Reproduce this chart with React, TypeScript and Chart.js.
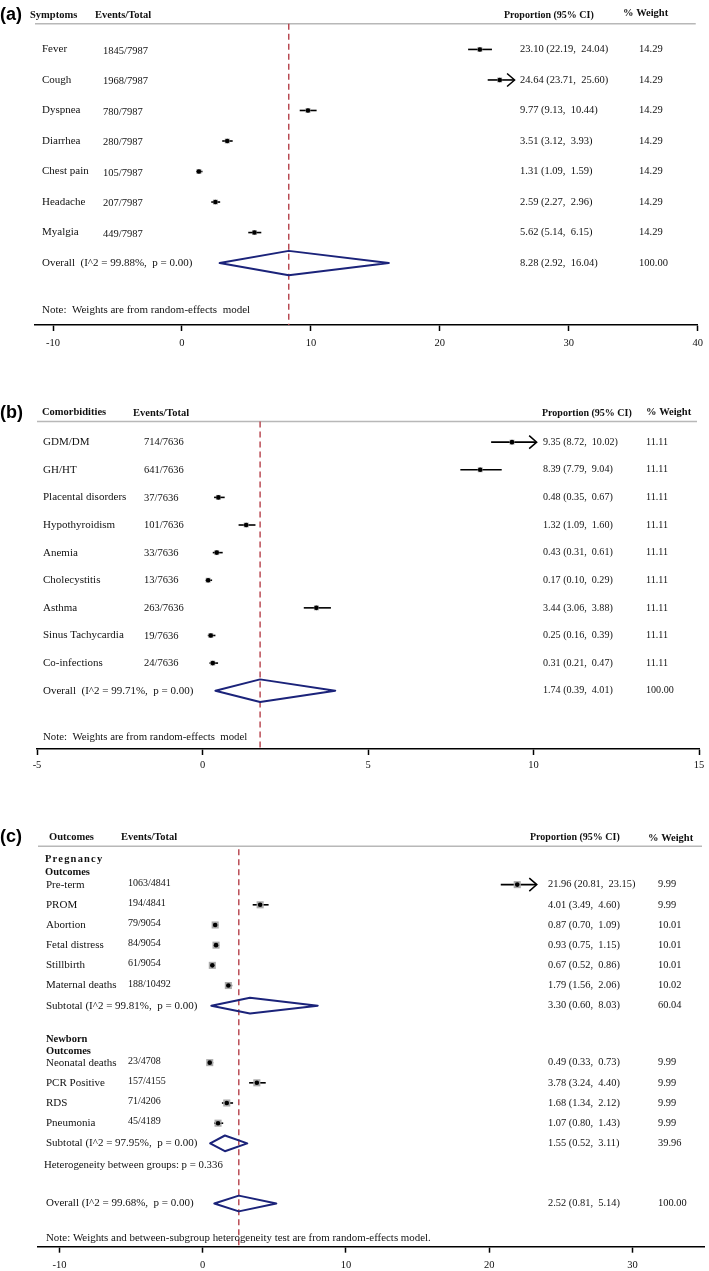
import React, { useEffect, useRef } from "react";
import { Chart, registerables } from "chart.js";

Chart.register(...registerables);

// ---------------- (a) Symptoms ----------------
const symptomNames = ["Fever", "Cough", "Dyspnea", "Diarrhea", "Chest pain", "Headache", "Myalgia"];
const symptomEvents = ["1845/7987", "1968/7987", "780/7987", "280/7987", "105/7987", "207/7987", "449/7987"];
const symptomEst = [23.1, 24.64, 9.77, 3.51, 1.31, 2.59, 5.62];
const symptomLow = [22.19, 23.71, 9.13, 3.12, 1.09, 2.27, 5.14];
const symptomHigh = [24.04, 25.6, 10.44, 3.93, 1.59, 2.96, 6.15];
const symptomWeight = [14.29, 14.29, 14.29, 14.29, 14.29, 14.29, 14.29];
const symptomArrow = [false, true, false, false, false, false, false];
const symptomOverall = [8.28, 2.92, 16.04, 100.0]; // estimate, low, high, weight
const symptomHet = [99.88, 0.0]; // I^2, p
const symptomTicks = [-10, 0, 10, 20, 30, 40];

// ---------------- (b) Comorbidities ----------------
const comorbNames = ["GDM/DM", "GH/HT", "Placental disorders", "Hypothyroidism", "Anemia", "Cholecystitis", "Asthma", "Sinus Tachycardia", "Co-infections"];
const comorbEvents = ["714/7636", "641/7636", "37/7636", "101/7636", "33/7636", "13/7636", "263/7636", "19/7636", "24/7636"];
const comorbEst = [9.35, 8.39, 0.48, 1.32, 0.43, 0.17, 3.44, 0.25, 0.31];
const comorbLow = [8.72, 7.79, 0.35, 1.09, 0.31, 0.1, 3.06, 0.16, 0.21];
const comorbHigh = [10.02, 9.04, 0.67, 1.6, 0.61, 0.29, 3.88, 0.39, 0.47];
const comorbWeight = [11.11, 11.11, 11.11, 11.11, 11.11, 11.11, 11.11, 11.11, 11.11];
const comorbArrow = [true, false, false, false, false, false, false, false, false];
const comorbOverall = [1.74, 0.39, 4.01, 100.0];
const comorbHet = [99.71, 0.0];
const comorbTicks = [-5, 0, 5, 10, 15];

// ---------------- (c) Outcomes ----------------
const pregNames = ["Pre-term", "PROM", "Abortion", "Fetal distress", "Stillbirth", "Maternal deaths"];
const pregEvents = ["1063/4841", "194/4841", "79/9054", "84/9054", "61/9054", "188/10492"];
const pregEst = [21.96, 4.01, 0.87, 0.93, 0.67, 1.79];
const pregLow = [20.81, 3.49, 0.7, 0.75, 0.52, 1.56];
const pregHigh = [23.15, 4.6, 1.09, 1.15, 0.86, 2.06];
const pregWeight = [9.99, 9.99, 10.01, 10.01, 10.01, 10.02];
const pregArrow = [true, false, false, false, false, false];
const pregSubtotal = [3.3, 0.6, 8.03, 60.04];
const pregHet = [99.81, 0.0];

const newbornNames = ["Neonatal deaths", "PCR Positive", "RDS", "Pneumonia"];
const newbornEvents = ["23/4708", "157/4155", "71/4206", "45/4189"];
const newbornEst = [0.49, 3.78, 1.68, 1.07];
const newbornLow = [0.33, 3.24, 1.34, 0.8];
const newbornHigh = [0.73, 4.4, 2.12, 1.43];
const newbornWeight = [9.99, 9.99, 9.99, 9.99];
const newbornArrow = [false, false, false, false];
const newbornSubtotal = [1.55, 0.52, 3.11, 39.96];
const newbornHet = [97.95, 0.0];

const outcomeOverall = [2.52, 0.81, 5.14, 100.0];
const outcomeHet = [99.68, 0.0];
const betweenGroupP = 0.336;
const outcomeTicks = [-10, 0, 10, 20, 30];

// ---------------- styling ----------------
const SERIF = '"Liberation Serif", "Times New Roman", serif';
const SANS = '"Liberation Sans", Arial, sans-serif';
const NAVY = "#1b237a";
const DASH = "#b5404a";
const BOX = "#ababab";
const TICK_LEN = 6;
const TICK_FONT = 10.5;

type Row = { est: number; lo: number; hi: number; arrow: boolean; row: number };
type Pooled = { est: number; lo: number; hi: number; row: number };
type TextItem = { text: string; x: number; row: number; size: number; bold?: boolean; sans?: boolean; spacing?: number; dy?: number };

interface PanelSpec {
  top: number;
  height: number;
  axisY: number; // axis line position inside the canvas
  left: number;
  right: number;
  tickPad: number;
  xMin: number;
  xMax: number;
  yMin: number;
  yMax: number;
  ticks: number[];
  rows: Row[];
  pooled: Pooled[];
  overall: number;
  dashFrom: number;
  ruleRow: number;
  boxRadius: number;
  diamondHalf: number;
  texts: TextItem[];
}

const f2 = (n: number) => n.toFixed(2);
const ciText = (e: number, l: number, h: number) => `${f2(e)} (${f2(l)},  ${f2(h)})`;

interface Cols { name: number; events: number; value: number; weight: number; nameSize: number; eventSize: number; valueSize: number; eventDy: number }

function addGroup(
  rows: Row[], texts: TextItem[], cols: Cols,
  names: string[], events: string[], est: number[], lo: number[], hi: number[], w: number[], arrows: boolean[],
  rowOf: (i: number) => number
) {
  names.forEach((n, i) => {
    const r = rowOf(i);
    rows.push({ est: est[i], lo: lo[i], hi: hi[i], arrow: arrows[i], row: r });
    texts.push({ text: n, x: cols.name, row: r, size: cols.nameSize });
    texts.push({ text: events[i], x: cols.events, row: r, size: cols.eventSize, dy: cols.eventDy });
    texts.push({ text: ciText(est[i], lo[i], hi[i]), x: cols.value, row: r, size: cols.valueSize });
    texts.push({ text: f2(w[i]), x: cols.weight, row: r, size: cols.valueSize });
  });
}

function addPooled(pooled: Pooled[], texts: TextItem[], cols: Cols, label: string, vals: number[], row: number) {
  pooled.push({ est: vals[0], lo: vals[1], hi: vals[2], row });
  texts.push({ text: label, x: cols.name, row, size: cols.nameSize });
  texts.push({ text: ciText(vals[0], vals[1], vals[2]), x: cols.value, row, size: cols.valueSize });
  texts.push({ text: f2(vals[3]), x: cols.weight, row, size: cols.valueSize });
}

// ---- panel (a)
function specA(): PanelSpec {
  const rows: Row[] = [];
  const pooled: Pooled[] = [];
  const texts: TextItem[] = [];
  const cols: Cols = { name: 42, events: 103, value: 520, weight: 639, nameSize: 11, eventSize: 10.5, valueSize: 10.5, eventDy: 1.5 };
  const hr = -1.13;
  texts.push({ text: "(a)", x: 0, row: hr, size: 18, bold: true, sans: true });
  texts.push({ text: "Symptoms", x: 30, row: hr, size: 10.5, bold: true });
  texts.push({ text: "Events/Total", x: 95, row: hr, size: 10.5, bold: true });
  texts.push({ text: "Proportion (95% CI)", x: 504, row: hr, size: 10, bold: true });
  texts.push({ text: "% Weight", x: 623, row: hr - 0.06, size: 10.5, bold: true });
  addGroup(rows, texts, cols, symptomNames, symptomEvents, symptomEst, symptomLow, symptomHigh, symptomWeight, symptomArrow, (i) => i);
  addPooled(pooled, texts, cols, `Overall  (I^2 = ${f2(symptomHet[0])}%,  p = ${f2(symptomHet[1])})`, symptomOverall, 7);
  texts.push({ text: "Note:  Weights are from random-effects  model", x: 42, row: 8.53, size: 11 });
  return {
    top: 0, height: 356, axisY: 325, left: 35, right: 701, tickPad: 6,
    xMin: -11.4, xMax: 40, yMin: -1.489, yMax: 9.029, ticks: symptomTicks,
    rows, pooled, overall: symptomOverall[0], dashFrom: -0.84, ruleRow: -0.84,
    boxRadius: 3.5, diamondHalf: 0.4, texts,
  };
}

// ---- panel (b)
function specB(): PanelSpec {
  const rows: Row[] = [];
  const pooled: Pooled[] = [];
  const texts: TextItem[] = [];
  const cols: Cols = { name: 43, events: 144, value: 543, weight: 646, nameSize: 11, eventSize: 10.5, valueSize: 10.1, eventDy: 0.5 };
  const hr = -1.04;
  texts.push({ text: "(b)", x: 0, row: hr, size: 18, bold: true, sans: true });
  texts.push({ text: "Comorbidities", x: 42, row: hr - 0.03, size: 10.5, bold: true });
  texts.push({ text: "Events/Total", x: 133, row: hr, size: 10.5, bold: true });
  texts.push({ text: "Proportion (95% CI)", x: 542, row: hr, size: 10, bold: true });
  texts.push({ text: "% Weight", x: 646, row: hr - 0.04, size: 10.5, bold: true });
  addGroup(rows, texts, cols, comorbNames, comorbEvents, comorbEst, comorbLow, comorbHigh, comorbWeight, comorbArrow, (i) => i);
  addPooled(pooled, texts, cols, `Overall  (I^2 = ${f2(comorbHet[0])}%,  p = ${f2(comorbHet[1])})`, comorbOverall, 9);
  texts.push({ text: "Note:  Weights are from random-effects  model", x: 43, row: 10.68, size: 10.8 });
  return {
    top: 356, height: 424, axisY: 393, left: 37, right: 699, tickPad: 4,
    xMin: -5, xMax: 15, yMin: -2.975, yMax: 11.111, ticks: comorbTicks,
    rows, pooled, overall: comorbOverall[0], dashFrom: -0.75, ruleRow: -0.75,
    boxRadius: 3.5, diamondHalf: 0.41, texts,
  };
}

// ---- panel (c)
function specC(): PanelSpec {
  const rows: Row[] = [];
  const pooled: Pooled[] = [];
  const texts: TextItem[] = [];
  const cols: Cols = { name: 46, events: 128, value: 548, weight: 658, nameSize: 11, eventSize: 10, valueSize: 10.4, eventDy: -1.5 };
  const hr = -2.34;
  texts.push({ text: "(c)", x: 0, row: hr, size: 18, bold: true, sans: true });
  texts.push({ text: "Outcomes", x: 49, row: hr, size: 10.5, bold: true });
  texts.push({ text: "Events/Total", x: 121, row: hr, size: 10.5, bold: true });
  texts.push({ text: "Proportion (95% CI)", x: 530, row: hr, size: 10, bold: true });
  texts.push({ text: "% Weight", x: 648, row: hr + 0.04, size: 10.5, bold: true });
  texts.push({ text: "Pregnancy", x: 45, row: -1.26, size: 10.5, bold: true, spacing: 1.2 });
  texts.push({ text: "Outcomes", x: 45, row: -0.62, size: 10.5, bold: true });
  addGroup(rows, texts, cols, pregNames, pregEvents, pregEst, pregLow, pregHigh, pregWeight, pregArrow, (i) => i);
  addPooled(pooled, texts, cols, `Subtotal (I^2 = ${f2(pregHet[0])}%,  p = ${f2(pregHet[1])})`, pregSubtotal, 6);
  texts.push({ text: "Newborn", x: 46, row: 7.65, size: 10.5, bold: true });
  texts.push({ text: "Outcomes", x: 46, row: 8.28, size: 10.5, bold: true });
  addGroup(rows, texts, cols, newbornNames, newbornEvents, newbornEst, newbornLow, newbornHigh, newbornWeight, newbornArrow, (i) => 8.82 + i);
  addPooled(pooled, texts, cols, `Subtotal (I^2 = ${f2(newbornHet[0])}%,  p = ${f2(newbornHet[1])})`, newbornSubtotal, 12.82);
  texts.push({ text: `Heterogeneity between groups: p = ${betweenGroupP.toFixed(3)}`, x: 44, row: 13.9, size: 10.8 });
  addPooled(pooled, texts, cols, `Overall (I^2 = ${f2(outcomeHet[0])}%,  p = ${f2(outcomeHet[1])})`, outcomeOverall, 15.8);
  texts.push({ text: "Note: Weights and between-subgroup heterogeneity test are from random-effects model.", x: 46, row: 17.5, size: 10.9 });
  return {
    top: 780, height: 498, axisY: 466.7, left: 38, right: 708, tickPad: 6,
    xMin: -11.5, xMax: 35, yMin: -4.936, yMax: 17.94, ticks: outcomeTicks,
    rows, pooled, overall: outcomeOverall[0], dashFrom: -1.75, ruleRow: -1.9,
    boxRadius: 5, diamondHalf: 0.39, texts,
  };
}

function forestPlugin(spec: PanelSpec) {
  return {
    id: "forest",
    beforeDatasetsDraw(chart: any) {
      const { ctx, chartArea } = chart;
      const xs = chart.scales.x;
      const ys = chart.scales.y;
      ctx.save();
      const ry = ys.getPixelForValue(spec.ruleRow);
      ctx.strokeStyle = "#b8b8b8";
      ctx.lineWidth = 1.5;
      ctx.beginPath();
      ctx.moveTo(chartArea.left, ry);
      ctx.lineTo(chartArea.right - 2, ry);
      ctx.stroke();
      ctx.strokeStyle = "#000";
      ctx.lineWidth = 1.6;
      for (const r of spec.rows) {
        const y = ys.getPixelForValue(r.row);
        const x1 = xs.getPixelForValue(r.lo);
        const x2 = xs.getPixelForValue(r.hi);
        ctx.beginPath();
        ctx.moveTo(x1, y);
        ctx.lineTo(x2 + (r.arrow ? 2 : 0), y);
        ctx.stroke();
        if (r.arrow) {
          ctx.lineWidth = 1.5;
          ctx.beginPath();
          ctx.moveTo(x2 - 5, y - 6.5);
          ctx.lineTo(x2 + 2.5, y);
          ctx.lineTo(x2 - 5, y + 6.5);
          ctx.stroke();
          ctx.lineWidth = 1.6;
        }
      }
      ctx.restore();
    },
    afterDraw(chart: any) {
      const ctx = chart.ctx;
      const ys = chart.scales.y;
      ctx.save();
      ctx.textBaseline = "middle";
      ctx.textAlign = "left";
      for (const t of spec.texts) {
        ctx.font = `${t.bold ? "bold " : ""}${t.size}px ${t.sans ? SANS : SERIF}`;
        (ctx as any).letterSpacing = `${t.spacing || 0}px`;
        ctx.fillStyle = t.sans ? "#000" : "#111";
        ctx.fillText(t.text, t.x, ys.getPixelForValue(t.row) + (t.dy || 0));
      }
      ctx.restore();
    },
  };
}

function ForestPanel({ spec }: { spec: PanelSpec }) {
  const ref = useRef<HTMLCanvasElement>(null);
  useEffect(() => {
    if (!ref.current) return;
    const pts = spec.rows.map((r) => ({ x: r.est, y: r.row }));
    const datasets: any[] = [
      { label: "estimate", data: pts, pointStyle: "circle", pointRadius: 2.3, backgroundColor: "#000", borderWidth: 0, showLine: false, clip: false },
      { label: "weight", data: pts, pointStyle: "rect", pointRadius: spec.boxRadius, backgroundColor: BOX, borderWidth: 0, showLine: false, clip: false },
      ...spec.pooled.map((p, i) => ({
        label: "pooled" + i,
        data: [
          { x: p.lo, y: p.row },
          { x: p.est, y: p.row - spec.diamondHalf },
          { x: p.hi, y: p.row },
          { x: p.est, y: p.row + spec.diamondHalf },
          { x: p.lo, y: p.row },
        ],
        showLine: true,
        borderColor: NAVY,
        borderWidth: 2,
        borderJoinStyle: "round",
        borderCapStyle: "round",
        pointRadius: 0,
        fill: false,
        tension: 0,
        clip: false,
      })),
      {
        label: "overall",
        data: [
          { x: spec.overall, y: spec.dashFrom },
          { x: spec.overall, y: spec.yMax },
        ],
        showLine: true,
        borderColor: DASH,
        borderDash: [6, 4],
        borderWidth: 1.4,
        pointRadius: 0,
        clip: false,
      },
    ];
    // x-axis block height = tick length + label line height + 2 * tick padding
    const axisBlock = TICK_LEN + TICK_FONT * 1.2 + 2 * spec.tickPad;
    const padBottom = Math.max(0, spec.height - spec.axisY - axisBlock);
    const chart = new Chart(ref.current, {
      type: "scatter",
      data: { datasets },
      options: {
        animation: false,
        responsive: false,
        devicePixelRatio: 1,
        events: [],
        layout: { padding: { left: spec.left, right: 709 - spec.right, top: 0, bottom: padBottom } },
        plugins: { legend: { display: false }, tooltip: { enabled: false } },
        scales: {
          x: {
            type: "linear",
            min: spec.xMin,
            max: spec.xMax,
            afterBuildTicks: (s: any) => {
              s.ticks = spec.ticks.map((v) => ({ value: v }));
            },
            grid: { drawOnChartArea: false, drawTicks: true, tickLength: TICK_LEN, tickWidth: 1.5, tickColor: "#000" },
            border: { display: true, color: "#000", width: 1.6 },
            ticks: {
              color: "#111",
              font: { family: SERIF, size: TICK_FONT },
              padding: spec.tickPad,
              maxRotation: 0,
              autoSkip: false,
            },
          },
          y: { type: "linear", display: false, reverse: true, min: spec.yMin, max: spec.yMax },
        },
      } as any,
      plugins: [forestPlugin(spec) as any],
    });
    return () => chart.destroy();
  }, [spec]);
  return (
    <canvas
      ref={ref}
      width={709}
      height={spec.height}
      style={{ position: "absolute", left: 0, top: spec.top, width: 709, height: spec.height, display: "block" }}
    />
  );
}

const SPECS = [specA(), specB(), specC()];

export default function App() {
  return (
    <div style={{ position: "absolute", left: 0, top: 0, width: 709, height: 1271, background: "#fff", overflow: "hidden" }}>
      {SPECS.map((s, i) => (
        <ForestPanel key={i} spec={s} />
      ))}
    </div>
  );
}
